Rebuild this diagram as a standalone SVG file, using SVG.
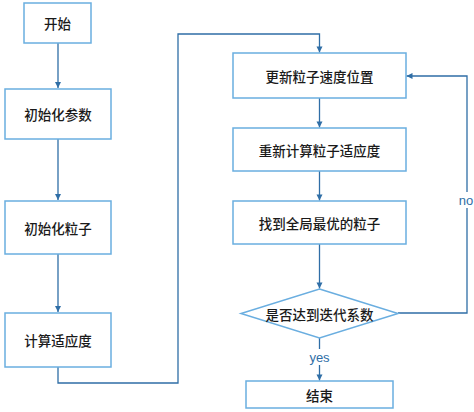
<svg xmlns="http://www.w3.org/2000/svg" width="474" height="412" viewBox="0 0 474 412">
<defs>
<marker id="arr" markerWidth="8" markerHeight="8" refX="7" refY="4" orient="auto" markerUnits="userSpaceOnUse">
<path d="M1,1 L7,4 L1,7 Z" fill="#2f6ea6"/>
</marker>
<style>
.box{fill:#fff;stroke:#6aaee0;stroke-width:1.5}
.t{font-family:"Noto Sans CJK SC","Noto Sans",sans-serif;font-size:13.5px;font-weight:500;fill:#1a1a1a;text-anchor:middle;dominant-baseline:central}
.c{fill:none;stroke:#2f6ea6;stroke-width:1.3}
.lbl{font-family:"Liberation Sans",Arial,sans-serif;font-size:13px;fill:#2f6ea6;text-anchor:middle;dominant-baseline:central}
</style>
</defs>
<rect width="474" height="412" fill="#fff"/>
<g id="connectors">
<path class="c" d="M58,43 V88" marker-end="url(#arr)"/>
<path class="c" d="M58,139 V200" marker-end="url(#arr)"/>
<path class="c" d="M58,254 V312" marker-end="url(#arr)"/>
<path class="c" d="M58,367 V383 H178 V34 H319.5 V52.5" marker-end="url(#arr)"/>
<path class="c" d="M319.5,98 V127.5" marker-end="url(#arr)"/>
<path class="c" d="M319.5,171 V200.5" marker-end="url(#arr)"/>
<path class="c" d="M319.5,244 V288.5" marker-end="url(#arr)"/>
<path class="c" d="M319.5,338 V380.5" marker-end="url(#arr)"/>
<path class="c" d="M398,313 H467 V76 H406.5" marker-end="url(#arr)"/>
<rect x="456" y="192" width="20" height="16" fill="#fff"/>
<text class="lbl" x="466" y="200">no</text>
<rect x="305" y="349" width="29" height="16" fill="#fff"/>
<text class="lbl" x="319.5" y="357">yes</text>
</g>
<g id="start"><rect class="box" x="24" y="3" width="67" height="40"/><text class="t" x="57.5" y="23">开始</text></g>
<g id="init-params"><rect class="box" x="5" y="89" width="106" height="50"/><text class="t" x="58" y="114">初始化参数</text></g>
<g id="init-particles"><rect class="box" x="5" y="201" width="106" height="53"/><text class="t" x="58" y="227.5">初始化粒子</text></g>
<g id="compute-fitness"><rect class="box" x="5" y="313" width="106" height="54"/><text class="t" x="58" y="340">计算适应度</text></g>
<g id="update"><rect class="box" x="233" y="53" width="173" height="45"/><text class="t" x="319.5" y="75.5">更新粒子速度位置</text></g>
<g id="recompute"><rect class="box" x="233" y="128" width="173" height="43"/><text class="t" x="319.5" y="149.5">重新计算粒子适应度</text></g>
<g id="best"><rect class="box" x="233" y="201" width="173" height="43"/><text class="t" x="319.5" y="222.5">找到全局最优的粒子</text></g>
<g id="decision"><path class="box" d="M319.5,289 L398,313.5 L319.5,338 L241,313.5 Z"/><text class="t" x="319.5" y="313.5">是否达到迭代系数</text></g>
<g id="end"><rect class="box" x="246" y="381" width="147" height="27"/><text class="t" x="319.5" y="394.5">结束</text></g>
</svg>
